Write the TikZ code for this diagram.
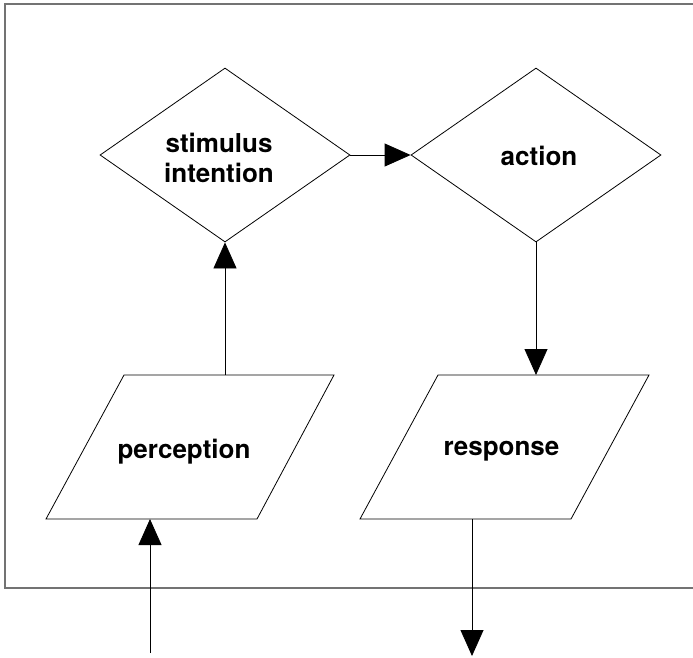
\documentclass[tikz,border=0pt]{standalone}
\usepackage{fontspec}
\setmainfont{TeX Gyre Heros}
\usetikzlibrary{shapes.geometric,arrows.meta}

\tikzset{
  lbl/.style={font=\bfseries\fontsize{26}{30}\selectfont, align=center, inner sep=0pt},
  decision/.style={draw=black, line width=0.8pt, shape=diamond,
    minimum width=250pt, minimum height=174pt, inner sep=0pt},
  iobox/.style={draw=black, line width=0.8pt, line join=miter},
  arr/.style={draw=black, line width=0.8pt,
    -{Triangle[length=26pt,width=23pt]}},
  frame/.style={draw=black!55, line width=1.5pt}
}

\begin{document}
\begin{tikzpicture}[x=1pt,y=-1pt]
  \useasboundingbox (0,0) rectangle (693,657);
  \clip (0,0) rectangle (693,657);

  % enclosing frame, open to the right
  \draw[frame] (710,4) -- (5,4) -- (5,588) -- (710,588);

  % decisions
  \node[decision] (stim) at (225,155) {};
  \node[decision] (act)  at (536,155) {};
  \node[lbl] (stimtxt) at (219,158) {stimulus\\intention};
  \node[lbl] (acttxt)  at (539,156) {action};

  % input / output parallelograms
  \draw[iobox] (124,375) -- (334,375) -- (257,519) -- (46,519) -- cycle;
  \draw[iobox] (438,375) -- (649,375) -- (571,519) -- (360,519) -- cycle;
  \node[lbl] (perc) at (184,452) {perception};
  \node[lbl] (resp) at (501.5,451) {response};

  % border points of the parallelograms used by the connectors
  \coordinate (perctop) at (225,375);
  \coordinate (percbot) at (150,519);
  \coordinate (resptop) at (536,375);
  \coordinate (respbot) at (472,519);

  % free ends of the outer connectors
  \coordinate (pin)  at (150,653);
  \coordinate (pout) at (472,656);

  % connectors
  \draw[arr] (stim.east) -- (act.west);
  \draw[arr] (perctop) -- (stim.south);
  \draw[arr] (act.south) -- (resptop);
  \draw[arr] (pin) -- (percbot);
  \draw[arr] (respbot) -- (pout);
\end{tikzpicture}
\end{document}
